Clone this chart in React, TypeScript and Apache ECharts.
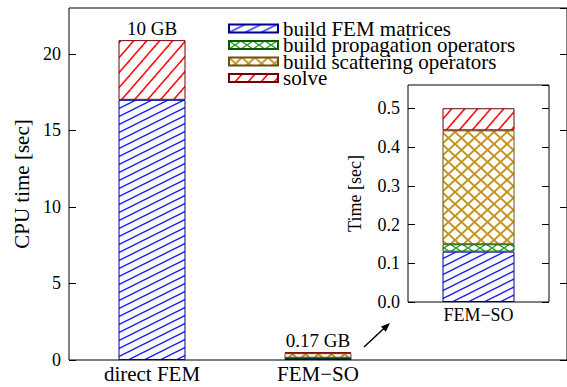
import React, { useEffect, useRef } from "react";
import * as echarts from "echarts";

const categories = ["direct FEM", "FEM\u2212SO"];
const buildFEM = [17.0, 0.13];
const buildProp = [null, 0.019];
const buildScat = [null, 0.294];
const solve = [3.9, 0.057];
const memoryLabels = ["10 GB", "0.17 GB"];
const seriesNames = [
  "build FEM matrices",
  "build propagation operators",
  "build scattering operators",
  "solve",
];
const mainTicks = { min: 0, max: 23, interval: 5 };
const insetTicks = { min: 0, max: 0.56, interval: 0.1 };

const FONT = "Liberation Serif";

function makePattern(
  w: number,
  h: number,
  color: string,
  lw: number,
  lines: number[][]
) {
  const c = document.createElement("canvas");
  c.width = w;
  c.height = h;
  const ctx = c.getContext("2d")!;
  ctx.fillStyle = "#ffffff";
  ctx.fillRect(0, 0, w, h);
  ctx.strokeStyle = color;
  ctx.lineWidth = lw;
  for (const [x1, y1, x2, y2] of lines) {
    for (const dx of [-w, 0, w]) {
      for (const dy of [-h, 0, h]) {
        ctx.beginPath();
        ctx.moveTo(x1 + dx, y1 + dy);
        ctx.lineTo(x2 + dx, y2 + dy);
        ctx.stroke();
      }
    }
  }
  return { image: c, repeat: "repeat", imageWidth: w, imageHeight: h } as any;
}

export default function App() {
  const ref = useRef<HTMLDivElement>(null);
  useEffect(() => {
    document.body.style.margin = "0";
    const chart = echarts.init(ref.current!, null, { renderer: "svg" });

    const pBlue = makePattern(16, 8, "#1a1aff", 1.4, [[0, 8, 16, 0]]);
    const pGreen = makePattern(12, 8, "#2e9a2e", 1.4, [
      [0, 8, 12, 0],
      [0, 0, 12, 8],
    ]);
    const pGold = makePattern(13, 12, "#c39420", 2, [
      [0, 12, 13, 0],
      [0, 0, 13, 12],
    ]);
    const pRed = makePattern(13, 15, "#ff1010", 1.6, [[0, 15, 13, 0]]);

    const styles = [
      { color: pBlue, borderColor: "#000090", borderWidth: 1 },
      { color: pGreen, borderColor: "#005a00", borderWidth: 1 },
      { color: pGold, borderColor: "#6a5010", borderWidth: 1 },
      { color: pRed, borderColor: "#700000", borderWidth: 1 },
    ];
    const mainData = [buildFEM, buildProp, buildScat, solve];

    const textBase = { fontFamily: FONT, color: "#000" };

    const mkY = (gridIndex: number, pos: string, t: any, labels: boolean, fontSize: number, fmt?: any, name?: string, nameSize?: number, nameGap?: number) => ({
      type: "value",
      gridIndex,
      position: pos,
      min: t.min,
      max: t.max,
      interval: t.interval,
      splitLine: { show: false },
      axisLine: { show: false },
      axisTick: { show: true, inside: true, length: 7, lineStyle: { color: "#000" } },
      axisLabel: {
        show: labels,
        showMaxLabel: false,
        margin: 8,
        fontSize,
        ...textBase,
        formatter: fmt,
      },
      name: name || "",
      nameLocation: "middle",
      nameGap: nameGap || 0,
      nameTextStyle: { fontSize: nameSize || 12, ...textBase },
    });

    const series: any[] = [];
    seriesNames.forEach((name, i) => {
      series.push({
        name,
        type: "bar",
        stack: "main",
        xAxisIndex: 0,
        yAxisIndex: 0,
        barWidth: 67,
        data: mainData[i],
        itemStyle: styles[i],
        label:
          i === 3
            ? {
                show: true,
                position: "top",
                distance: 2,
                fontSize: 19,
                ...textBase,
                formatter: (p: any) => memoryLabels[p.dataIndex],
              }
            : { show: false },
      });
    });
    seriesNames.forEach((name, i) => {
      series.push({
        name,
        type: "bar",
        stack: "inset",
        xAxisIndex: 1,
        yAxisIndex: 2,
        barWidth: 72,
        data: [mainData[i][1]],
        itemStyle: styles[i],
      });
    });

    chart.setOption({
      animation: false,
      backgroundColor: "#fff",
      textStyle: { fontFamily: FONT, color: "#000" },
      grid: [
        {
          left: 69,
          top: 8,
          width: 501,
          height: 352,
          show: true,
          borderColor: "#000",
          borderWidth: 1,
          backgroundColor: "transparent",
        },
        {
          left: 408,
          top: 85,
          width: 141,
          height: 217,
          show: true,
          borderColor: "#000",
          borderWidth: 1,
          backgroundColor: "#fff",
        },
      ],
      legend: {
        orient: "vertical",
        left: 228,
        top: 18,
        padding: 0,
        itemGap: -4.5,
        itemWidth: 49,
        itemHeight: 8,
        itemTextGap: 10,
        icon: "rect",
        selectedMode: false,
        data: seriesNames,
        textStyle: {
          fontSize: 21,
          lineHeight: 16,
          fontFamily: FONT,
          color: "#000",
        },
      },
      xAxis: [
        {
          type: "category",
          gridIndex: 0,
          data: [...categories, ""],
          axisLine: { show: false },
          axisTick: { show: false },
          axisLabel: { interval: 0, margin: 3, fontSize: 21, ...textBase },
        },
        {
          type: "category",
          gridIndex: 1,
          data: [categories[1]],
          axisLine: { show: false },
          axisTick: { show: false },
          axisLabel: { interval: 0, margin: 4, fontSize: 18, ...textBase },
        },
      ],
      yAxis: [
        mkY(0, "left", mainTicks, true, 18, undefined, "CPU time [sec]", 21, 37),
        mkY(0, "right", mainTicks, false, 18),
        mkY(1, "left", insetTicks, true, 18, (v: number) => v.toFixed(1), "Time [sec]", 18, 44),
        mkY(1, "right", insetTicks, false, 18),
      ],
      series,
      graphic: [
        {
          type: "line",
          shape: { x1: 364, y1: 347, x2: 386, y2: 326.5 },
          style: { stroke: "#000", lineWidth: 1.5 },
          z: 10,
        },
        {
          type: "polygon",
          shape: { points: [[390, 323], [385.8, 331.7], [381, 326.5]] },
          style: { fill: "#000" },
          z: 10,
        },
      ],
    });
    return () => chart.dispose();
  }, []);
  return (
    <div
      ref={ref}
      style={{ position: "fixed", left: 0, top: 0, width: 567, height: 387 }}
    />
  );
}
